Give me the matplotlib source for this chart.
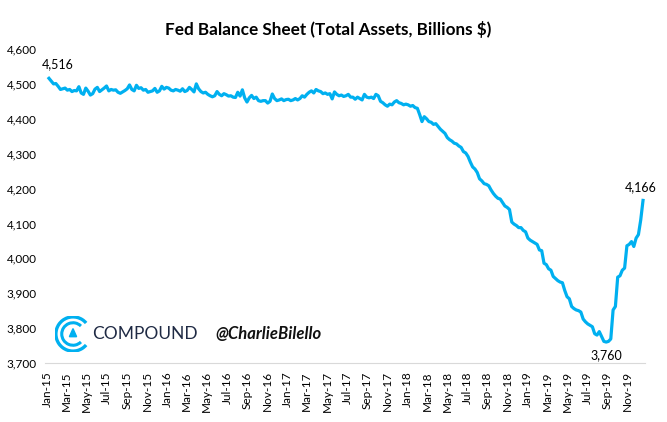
import matplotlib
matplotlib.use("Agg")
import matplotlib.pyplot as plt
import matplotlib.dates as mdates
from matplotlib.patches import Arc, Polygon
import numpy as np
import pandas as pd

# weekly Fed total assets (billions $)
y2015 = [4516, 4508, 4500, 4501, 4493, 4484, 4486, 4488, 4482, 4484, 4478, 4481, 4480,
         4492, 4474, 4470, 4488, 4479, 4468, 4472, 4485, 4490, 4478, 4483, 4488, 4494,
         4480, 4484, 4482, 4483, 4476, 4473, 4477, 4481, 4486, 4497, 4484, 4480, 4496,
         4487, 4489, 4482, 4484, 4476, 4478, 4480, 4487, 4476, 4480, 4493, 4485, 4490]
y2016 = [4488, 4482, 4480, 4484, 4482, 4479, 4486, 4478, 4481, 4490, 4484, 4477, 4500,
         4486, 4478, 4474, 4476, 4470, 4466, 4463, 4466, 4478, 4470, 4466, 4472, 4469,
         4465, 4466, 4462, 4461, 4476, 4465, 4483, 4460, 4448, 4460, 4467, 4458, 4462,
         4452, 4450, 4452, 4452, 4445, 4450, 4471, 4458, 4452, 4454, 4457, 4452, 4455]
y2017 = [4456, 4452, 4454, 4458, 4454, 4458, 4466, 4462, 4470, 4476, 4480, 4474, 4484,
         4480, 4478, 4472, 4474, 4470, 4472, 4457, 4477, 4470, 4466, 4468, 4464, 4466,
         4470, 4462, 4462, 4456, 4462, 4458, 4454, 4470, 4462, 4460, 4462, 4458, 4470,
         4466, 4450, 4446, 4440, 4436, 4442, 4440, 4448, 4452, 4446, 4444, 4440, 4442]
y2018 = [4440, 4436, 4438, 4432, 4430, 4412, 4392, 4406, 4400, 4392, 4390, 4384, 4386,
         4378, 4370, 4364, 4358, 4346, 4340, 4336, 4330, 4328, 4322, 4318, 4306, 4302,
         4292, 4276, 4262, 4256, 4246, 4228, 4222, 4214, 4212, 4208, 4196, 4186, 4178,
         4172, 4170, 4160, 4150, 4146, 4140, 4104, 4098, 4094, 4088, 4088, 4080, 4076]
y2019 = [4058, 4052, 4048, 4044, 4040, 4024, 4022, 3986, 3982, 3970, 3966, 3948, 3942,
         3936, 3932, 3930, 3908, 3890, 3884, 3862, 3856, 3852, 3850, 3846, 3826, 3818,
         3812, 3808, 3804, 3784, 3780, 3790, 3776, 3762, 3760, 3762, 3769, 3852, 3862,
         3946, 3950, 3966, 3972, 4036, 4040, 4048, 4034, 4058, 4068, 4110, 4166]

values = y2015 + y2016 + y2017 + y2018 + y2019
dates = pd.date_range("2015-01-07", periods=len(values), freq="W-WED")
yticks = [3700, 3800, 3900, 4000, 4100, 4200, 4300, 4400, 4500, 4600]

font = "Lato"
blue = "#00B0F0"

fig = plt.figure(figsize=(6.67, 4.22), dpi=100)
ax = fig.add_axes([45 / 667, 1 - 363 / 422, 600 / 667, (363 - 49) / 422])

ax.plot(dates, values, color=blue, lw=2.3, solid_joinstyle="round")

ax.set_ylim(3700, 4600)
ax.set_yticks(yticks)
ax.set_yticklabels([f"{v:,}" for v in yticks], fontsize=8.5, family=font)
ax.set_xlim(pd.Timestamp("2014-12-26"), pd.Timestamp("2019-12-24"))
ax.xaxis.set_major_locator(mdates.MonthLocator(bymonth=[1, 3, 5, 7, 9, 11]))
ax.xaxis.set_major_formatter(mdates.DateFormatter("%b-%y"))
for lab in ax.get_xticklabels():
    lab.set_rotation(90)
    lab.set_fontsize(8.5)
    lab.set_family(font)
ax.tick_params(axis="both", length=0, pad=6)
for s in ["top", "right", "left"]:
    ax.spines[s].set_visible(False)
ax.spines["bottom"].set_color("#d9d9d9")

# point labels
imin = int(np.argmin(values))
ax.annotate(f"{values[0]:,}", (dates[0], values[0]), xytext=(-5, 6), textcoords="offset points",
            ha="left", va="bottom", fontsize=9, family=font)
ax.annotate(f"{values[imin]:,}", (dates[imin], values[imin]), xytext=(0, -5), textcoords="offset points",
            ha="center", va="top", fontsize=9, family=font)
ax.annotate(f"{values[-1]:,}", (dates[-1], values[-1]), xytext=(-2, 5), textcoords="offset points",
            ha="center", va="bottom", fontsize=9, family=font)

fig.text(0.492, 1 - 30 / 422, "Fed Balance Sheet (Total Assets, Billions $)", ha="center", va="center",
         fontsize=12.3, fontweight="bold", family=font)

# watermark
lax = fig.add_axes([55 / 667, 1 - 352 / 422, 36 / 667, 36 / 422])
lax.set_xlim(-1, 1)
lax.set_ylim(-1, 1)
lax.axis("off")
lax.add_patch(Arc((0, 0), 1.9, 1.9, theta1=40, theta2=320, color=blue, lw=2.4))
lax.add_patch(Arc((0, 0), 1.25, 1.25, theta1=45, theta2=315, color=blue, lw=2.2))
lax.add_patch(Polygon([[0, 0.3], [-0.2, -0.15], [0.2, -0.15]], closed=True, color=blue))
fig.text(92 / 667, 1 - 334 / 422, "COMPOUND", ha="left", va="center", fontsize=12.5,
         color="#1f2a44", family=font)
fig.text(215 / 667, 1 - 334 / 422, "@CharlieBilello", ha="left", va="center", fontsize=12,
         color="#111111", family=font, fontweight="bold", style="italic")

fig.savefig("out.png", dpi=100)
